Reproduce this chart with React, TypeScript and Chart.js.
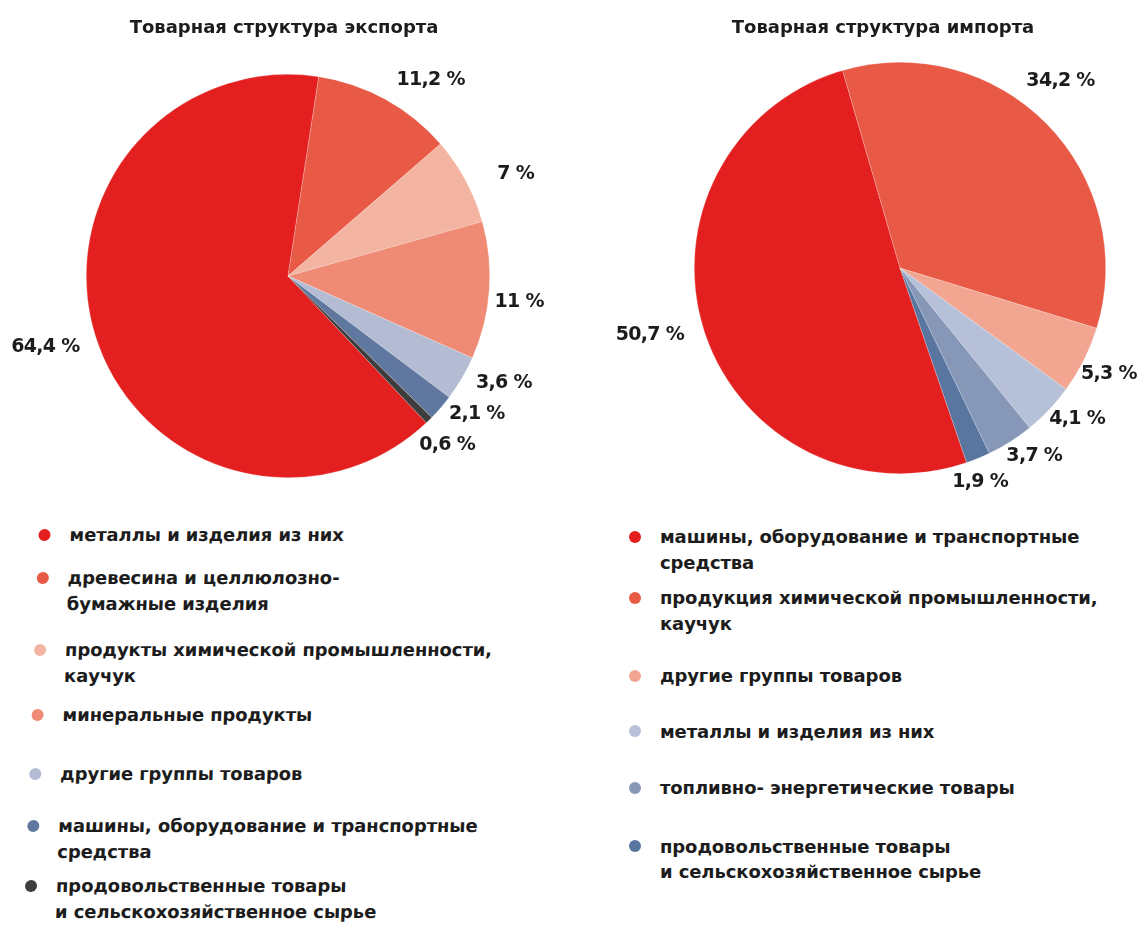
import React, { useEffect, useRef } from "react";
import { Chart, registerables } from "chart.js";

Chart.register(...registerables);

// ---------- DATA ----------
const exportTitle = "Товарная структура экспорта";
const importTitle = "Товарная структура импорта";

const exportCategories: string[][] = [
  ["металлы и изделия из них"],
  ["древесина и целлюлозно-", "бумажные изделия"],
  ["продукты химической промышленности,", "каучук"],
  ["минеральные продукты"],
  ["другие группы товаров"],
  ["машины, оборудование и транспортные", "средства"],
  ["продовольственные товары", "и сельскохозяйственное сырье"],
];
const exportValues = [64.4, 11.2, 7, 11, 3.6, 2.1, 0.6];
const exportValueLabels = ["64,4 %", "11,2 %", "7 %", "11 %", "3,6 %", "2,1 %", "0,6 %"];

const importCategories: string[][] = [
  ["машины, оборудование и транспортные", "средства"],
  ["продукция химической промышленности,", "каучук"],
  ["другие группы товаров"],
  ["металлы и изделия из них"],
  ["топливно- энергетические товары"],
  ["продовольственные товары", "и сельскохозяйственное сырье"],
];
const importValues = [50.7, 34.2, 5.3, 4.1, 3.7, 1.9];
const importValueLabels = ["50,7 %", "34,2 %", "5,3 %", "4,1 %", "3,7 %", "1,9 %"];

// ---------- STYLE ----------
const exportColors = ["#e3201f", "#e85a46", "#f3b4a2", "#ef8b74", "#b3bcd3", "#60789f", "#3d3d3d"];
const importColors = ["#e3201f", "#e85a46", "#f2a590", "#b6c0d8", "#8797b8", "#5876a0"];
const exportLabelOffsets = [[-50, 11], [45, -19], [50, -6], [30, 11], [42, 5], [36, 6], [18, 25]];
const importLabelOffsets = [[-54, 5], [14, -43], [25, 14], [28, 9], [24, 14], [2, 24]];
const exportLegendGaps = [0, 17, 20, 13, 33, 26, 8];
const importLegendGaps = [0, 10, 27, 30, 31, 33];

const FONT = '"DejaVu Sans", "Liberation Sans", Arial, sans-serif';

const outerLabels = {
  id: "outerLabels",
  afterDatasetsDraw(chart: any, _args: any, opts: any) {
    const { ctx } = chart;
    const meta = chart.getDatasetMeta(0);
    ctx.save();
    ctx.font = `bold 19px ${FONT}`;
    (ctx as any).letterSpacing = "-0.7px";
    ctx.fillStyle = "#1c1c1c";
    ctx.textAlign = "center";
    ctx.textBaseline = "middle";
    meta.data.forEach((arc: any, i: number) => {
      const p = arc.getProps(["x", "y", "startAngle", "endAngle", "outerRadius"], true);
      const mid = (p.startAngle + p.endAngle) / 2;
      const ax = p.x + Math.cos(mid) * p.outerRadius;
      const ay = p.y + Math.sin(mid) * p.outerRadius;
      const [dx, dy] = opts.offsets[i];
      ctx.fillText(opts.texts[i], ax + dx, ay + dy);
    });
    ctx.restore();
  },
};

type PieProps = {
  left: number;
  width: number;
  height: number;
  values: number[];
  colors: string[];
  texts: string[];
  offsets: number[][];
  rotation: number;
  padding: { left: number; right: number; top: number; bottom: number };
};

function Pie(props: PieProps) {
  const ref = useRef<HTMLCanvasElement>(null);
  useEffect(() => {
    if (!ref.current) return;
    const chart = new Chart(ref.current, {
      type: "pie",
      data: {
        labels: props.texts,
        datasets: [
          {
            data: props.values,
            backgroundColor: props.colors,
            borderColor: "rgba(255,255,255,0.35)",
            borderWidth: 0.6,
          },
        ],
      },
      options: {
        responsive: false,
        animation: false,
        rotation: props.rotation,
        layout: { padding: props.padding },
        plugins: {
          legend: { display: false },
          tooltip: { enabled: false },
          outerLabels: { texts: props.texts, offsets: props.offsets },
        } as any,
      },
      plugins: [outerLabels as any],
    });
    return () => chart.destroy();
  }, []);
  return (
    <canvas
      ref={ref}
      width={props.width}
      height={props.height}
      style={{ position: "absolute", left: props.left, top: 0, width: props.width, height: props.height }}
    />
  );
}

function Legend(props: {
  left: number;
  top: number;
  items: string[][];
  colors: string[];
  gaps: number[];
  lineHeight: number;
  skew: number;
}) {
  return (
    <div
      style={{
        position: "absolute",
        left: props.left,
        top: props.top,
        transform: `skewX(${props.skew}deg)`,
        transformOrigin: "top left",
        fontFamily: FONT,
        fontWeight: "bold",
        fontSize: 18,
        letterSpacing: "-0.1px",
        color: "#1c1c1c",
      }}
    >
      {props.items.map((lines, i) => (
        <div key={i} style={{ display: "flex", alignItems: "flex-start", marginTop: props.gaps[i] }}>
          <div
            style={{
              width: 12,
              height: 12,
              borderRadius: "50%",
              background: props.colors[i],
              marginTop: (props.lineHeight - 12) / 2,
              marginRight: 19,
              flex: "none",
            }}
          />
          <div style={{ lineHeight: `${props.lineHeight}px`, whiteSpace: "nowrap" }}>
            {lines.map((l, j) => (
              <div key={j}>{l}</div>
            ))}
          </div>
        </div>
      ))}
    </div>
  );
}

function Title(props: { text: string; cx: number }) {
  return (
    <div
      style={{
        position: "absolute",
        left: props.cx - 250,
        width: 500,
        top: 17,
        lineHeight: "20px",
        textAlign: "center",
        fontFamily: FONT,
        fontWeight: "bold",
        fontSize: 18,
        letterSpacing: "0px",
        color: "#1c1c1c",
      }}
    >
      {props.text}
    </div>
  );
}

export default function App() {
  return (
    <div style={{ position: "absolute", left: 0, top: 0, width: 1141, height: 931, background: "#fff", overflow: "hidden" }}>
      <Pie
        left={0}
        width={570}
        height={500}
        values={exportValues}
        colors={exportColors}
        texts={exportValueLabels}
        offsets={exportLabelOffsets}
        rotation={136.7}
        padding={{ left: 86, right: 80, top: 74, bottom: 22 }}
      />
      <Pie
        left={570}
        width={571}
        height={500}
        values={importValues}
        colors={importColors}
        texts={importValueLabels}
        offsets={importLabelOffsets}
        rotation={161.1}
        padding={{ left: 124, right: 35, top: 62, bottom: 26 }}
      />
      <Title text={exportTitle} cx={284} />
      <Title text={importTitle} cx={883} />
      <Legend left={39} top={522} items={exportCategories} colors={exportColors} gaps={exportLegendGaps} lineHeight={26} skew={-2.2} />
      <Legend left={629} top={524} items={importCategories} colors={importColors} gaps={importLegendGaps} lineHeight={25.5} skew={0} />
    </div>
  );
}
